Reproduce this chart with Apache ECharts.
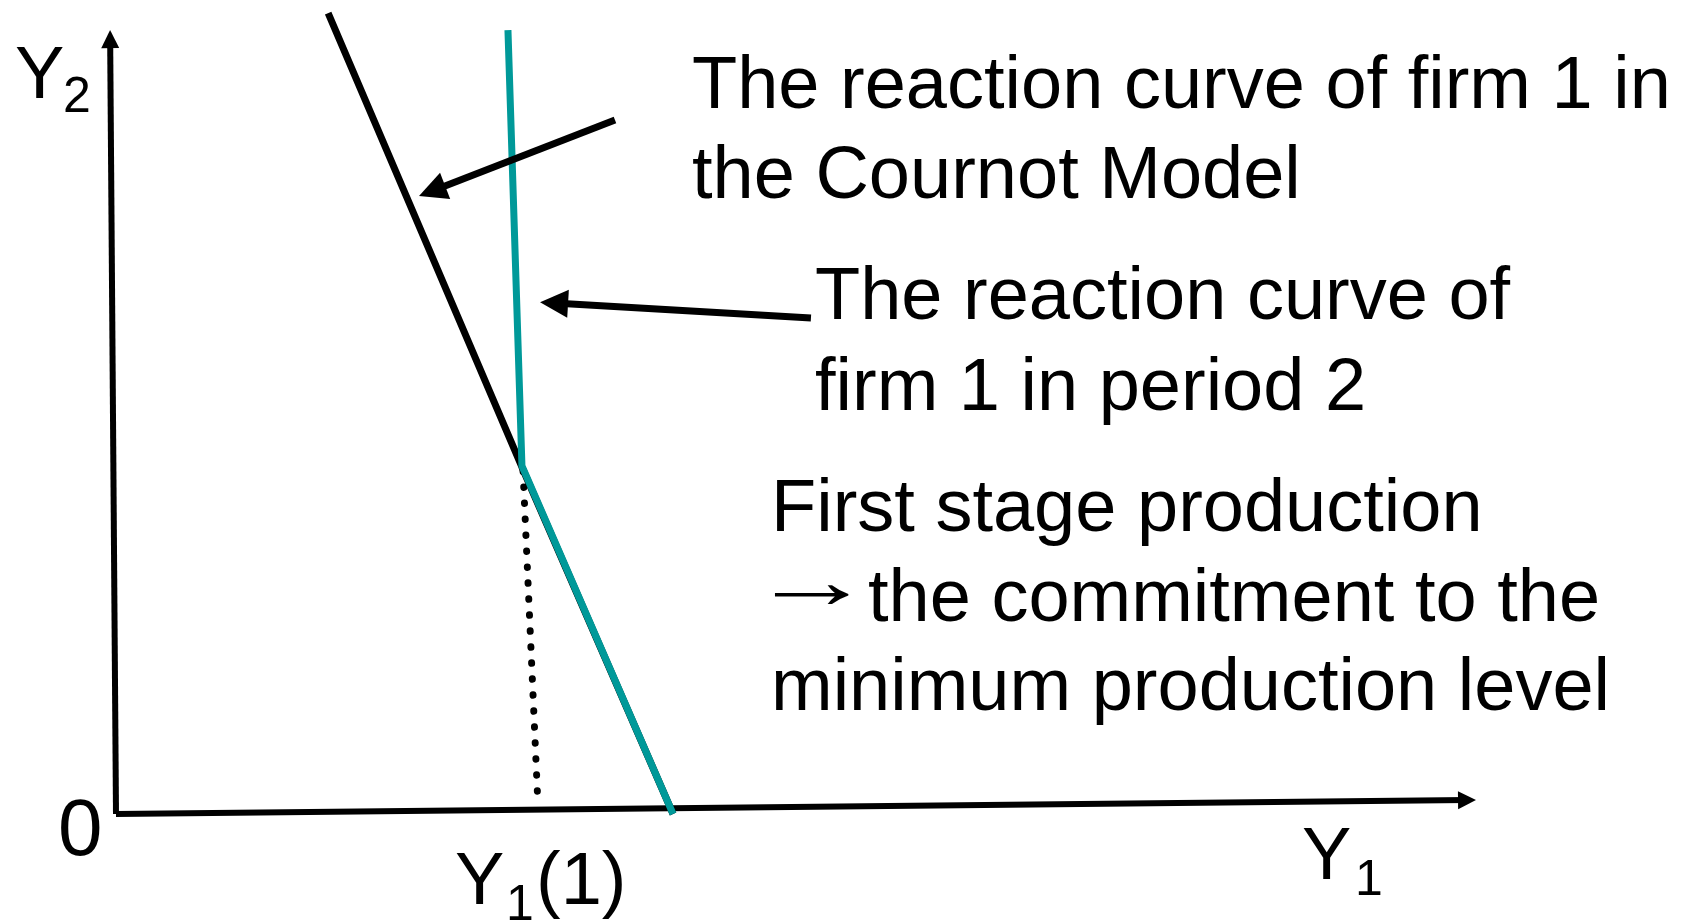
<!DOCTYPE html>
<html>
<head>
<meta charset="utf-8">
<script src="https://cdn.jsdelivr.net/npm/echarts@6/dist/echarts.min.js"></script>
<style>
  html, body { margin: 0; padding: 0; background: #fff; }
  #chart { width: 1686px; height: 920px; }
</style>
</head>
<body>
<div id="chart"></div>
<script>
// curve points in diagram units (Y1 across, Y2 up, both 0..100)
var cournotX = [15.6, 29.85, 40.96];
var cournotY = [98.4, 42.6, 0];
var period2X = [28.82, 29.85, 40.96];
var period2Y = [96.3, 42.75, 0];
var commitX = [29.93, 31.03];
var commitY = [42.14, 0.98];

// axes (start, arrow head)
var axisFrom = [[0, 0], [0, 0]];
var axisTo = [[-0.43, 95.2], [99.34, 1.71]];

// pointer arrows (start, arrow head)
var pointerFrom = [[36.69, 85.26], [51.1, 60.93]];
var pointerTo = [[23.24, 76.54], [32.21, 62.78]];

var font = "'Liberation Sans', Arial, sans-serif";
var teal = '#009999';

function zip(xs, ys) {
  return xs.map(function (x, i) { return [x, ys[i]]; });
}
function segs(from, to) {
  return from.map(function (p, i) { return { coords: [p, to[i]] }; });
}

// text helper: b is the baseline
function txt(x, b, s, size, fam) {
  return {
    type: 'text', x: x, y: b - 0.31 * size,
    style: { text: s, font: size + 'px ' + (fam || font), fill: '#000', textVerticalAlign: 'middle' }
  };
}

var arrowText = txt(750, 612, '\u2192', 80, "'Liberation Serif', serif");
arrowText.scaleX = 1.55;

var chart = echarts.init(document.getElementById('chart'));
chart.setOption({
  backgroundColor: '#fff',
  animation: false,
  grid: { left: 116, right: 210, top: 0, bottom: 106 },
  xAxis: { type: 'value', min: 0, max: 100, show: false },
  yAxis: { type: 'value', min: 0, max: 100, show: false },
  series: [
    {
      type: 'lines', coordinateSystem: 'cartesian2d', clip: false,
      symbol: ['none', 'triangle'], symbolSize: [18, 18],
      lineStyle: { color: '#000', width: 6, opacity: 1 },
      data: segs(axisFrom, axisTo), z: 2
    },
    {
      type: 'line', data: zip(cournotX, cournotY), symbol: 'none', clip: false,
      lineStyle: { color: '#000', width: 7 }, z: 3
    },
    {
      type: 'line', data: zip(commitX, commitY), symbol: 'none', clip: false,
      lineStyle: { color: '#000', width: 7, type: [0.5, 15.5], cap: 'round' }, z: 3
    },
    {
      type: 'line', data: zip(period2X, period2Y), symbol: 'none', clip: false,
      lineStyle: { color: teal, width: 7 }, z: 4
    },
    {
      type: 'lines', coordinateSystem: 'cartesian2d', clip: false,
      symbol: ['none', 'triangle'], symbolSize: [24, 28],
      lineStyle: { color: '#000', width: 7, opacity: 1 },
      data: segs(pointerFrom, pointerTo), z: 5
    }
  ],
  graphic: [
    txt(15, 101, 'Y', 74), txt(63, 114, '2', 50),
    txt(58, 858, '0', 80),
    txt(455, 907, 'Y', 74), txt(506, 922, '1', 50), txt(536, 907, '(1)', 74),
    txt(1302, 882, 'Y', 74), txt(1355, 897, '1', 50),
    txt(692, 111, 'The reaction curve of firm 1 in', 74),
    txt(692, 201, 'the Cournot Model', 74),
    txt(815, 322, 'The reaction curve of', 74),
    txt(815, 413, 'firm 1 in period 2', 74),
    txt(771, 534, 'First stage production', 74),
    arrowText,
    txt(868, 624, 'the commitment to the', 74),
    txt(771, 713, 'minimum production level', 74)
  ]
});
</script>
</body>
</html>
